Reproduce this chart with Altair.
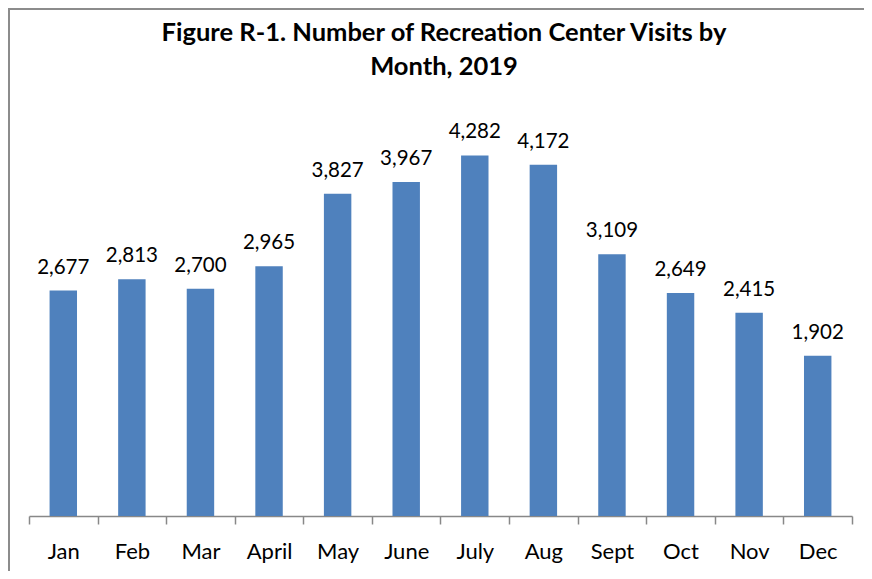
import altair as alt
import pandas as pd

months = ["Jan", "Feb", "Mar", "April", "May", "June", "July", "Aug", "Sept", "Oct", "Nov", "Dec"]
visits = [2677, 2813, 2700, 2965, 3827, 3967, 4282, 4172, 3109, 2649, 2415, 1902]
title_lines = ["Figure R-1. Number of Recreation Center Visits by", "Month, 2019"]

df = pd.DataFrame({"month": months, "visits": visits})
FONT = "Lato"

x = alt.X("month:N", sort=months, title=None,
          scale=alt.Scale(paddingInner=0, paddingOuter=0),
          axis=alt.Axis(labelAngle=0, labelFontSize=22, labelFont=FONT, labelColor="#000000",
                        labelPadding=17, tickBand="extent", tickSize=8, tickColor="#888888",
                        tickWidth=1.5, domainColor="#888888", domainWidth=1.5, grid=False))
y = alt.Y("visits:Q", title=None, scale=alt.Scale(domain=[0, 5000], nice=False), axis=None)

bars = alt.Chart(df).mark_bar(color="#4F81BD", width=alt.RelativeBandSize(0.4)).encode(x=x, y=y)
labels = alt.Chart(df).mark_text(baseline="alphabetic", dy=-17, fontSize=20.5, font=FONT,
                                 color="#000000").encode(
    x=alt.X("month:N", sort=months), y="visits:Q", text=alt.Text("visits:Q", format=","))

one = alt.Data(values=[{"a": 1}])
border = alt.Chart(one).mark_rect(
    fill=None, stroke="#8c8c8c", strokeWidth=2).encode(
    x=alt.value(-20), x2=alt.value(900), y=alt.value(-86), y2=alt.value(700))

title = alt.Chart(one).mark_text(fontSize=25.5, font=FONT, fontWeight="bold", color="#000000",
                                 lineHeight=34, align="center", baseline="alphabetic").encode(
    x=alt.value(415), y=alt.value(-54), text=alt.value(title_lines))

chart = alt.layer(border, title, bars, labels).properties(
    width=823, height=421,
    padding={"left": 21, "top": 87, "right": 12, "bottom": 55},
    autosize=alt.AutoSizeParams(type="none"),
    view=alt.ViewBackground(stroke=None, strokeWidth=0),
).configure_view(strokeWidth=0, stroke=None).configure(background="white")

chart.save("out.html", embed_options={"renderer": "svg", "actions": False})
